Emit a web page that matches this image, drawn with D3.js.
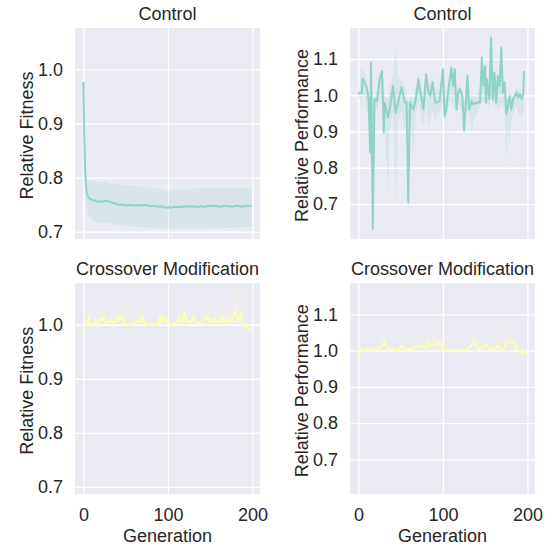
<!DOCTYPE html>
<meta charset='utf-8'>
<style>
body { margin: 0; background: #fff; }
text { font-family: 'Liberation Sans', Arial, sans-serif; fill: #262626; }
.grid line { stroke: #fff; stroke-width: 1.3px; }
.grid .domain { display: none; }
.grid text { font-size: 18px; }
.lbl { font-size: 18px; }
</style>
<svg width='548' height='546'></svg>
<script src='https://d3js.org/d3.v7.min.js'></script>
<script>

// ---- data ----
var ctrlFitGen  = [0,1,2,3,4,5,6,8,10,12,14,16,18,20,23,26,29,32,35,38,41,44,47,50,53,56,59,62,65,68,71,74,77,80,83,86,89,92,95,98,101,104,107,110,113,116,119,122,125,128,131,134,137,140,143,146,149,152,155,158,161,164,167,170,173,176,179,182,185,188,191,194,197,199];
var ctrlFitMean = [0.977,0.880,0.815,0.785,0.772,0.767,0.763,0.760,0.759,0.757,0.758,0.756,0.755,0.756,
  0.755,0.757,0.756,0.755,0.753,0.752,0.750,0.749,0.750,0.748,0.749,0.749,0.748,0.749,0.748,0.749,
  0.748,0.749,0.748,0.747,0.748,0.747,0.746,0.747,0.745,0.744,0.745,0.744,0.746,0.745,0.746,0.745,
  0.747,0.746,0.747,0.746,0.747,0.746,0.746,0.747,0.746,0.747,0.748,0.747,0.748,0.747,0.746,0.747,
  0.748,0.747,0.747,0.746,0.747,0.748,0.747,0.746,0.747,0.748,0.747,0.748];
var ctrlFitHi   = [0.980,0.905,0.845,0.812,0.800,0.797,0.796,0.795,0.794,0.793,0.794,0.792,0.791,0.792,
  0.791,0.792,0.790,0.789,0.788,0.788,0.787,0.786,0.787,0.785,0.786,0.785,0.784,0.785,0.783,0.784,
  0.782,0.783,0.781,0.781,0.780,0.780,0.779,0.778,0.777,0.777,0.776,0.777,0.778,0.777,0.778,0.779,
  0.778,0.779,0.780,0.779,0.780,0.779,0.780,0.781,0.780,0.781,0.780,0.781,0.780,0.781,0.780,0.781,
  0.782,0.781,0.780,0.781,0.782,0.781,0.780,0.781,0.782,0.781,0.780,0.781];
var ctrlFitLo   = [0.974,0.855,0.785,0.755,0.742,0.734,0.729,0.725,0.721,0.720,0.718,0.719,0.717,0.716,
  0.717,0.716,0.715,0.716,0.714,0.713,0.712,0.713,0.711,0.710,0.711,0.709,0.710,0.708,0.709,0.708,
  0.707,0.708,0.707,0.706,0.707,0.706,0.705,0.706,0.705,0.704,0.705,0.704,0.705,0.706,0.705,0.706,
  0.705,0.706,0.705,0.704,0.705,0.706,0.705,0.704,0.705,0.706,0.705,0.706,0.707,0.706,0.705,0.706,
  0.707,0.706,0.707,0.706,0.707,0.708,0.707,0.708,0.707,0.708,0.709,0.709];

var ctrlPerfGen  = [0,1,4,5,8,10,12,14,15,17,19,22,25,28,30,31,35,37,41,44,47,51,55,57,59,61,65,68,71,73,77,80,83,85,88,91,93,96,100,102,104,107,110,112,114,116,118,120,123,125,127,129,131,134,136,140,144,146,148,150,151,152,155,156,157,159,161,163,165,167,169,171,173,175,177,179,181,183,185,187,189,191,193,195,196];
var ctrlPerfMean = [1.003,1.006,1.007,1.046,1.030,1.021,0.989,0.842,1.090,0.631,0.989,0.984,1.044,1.067,
  0.897,0.980,0.939,0.961,1.026,0.952,0.980,1.021,0.980,0.980,0.705,0.980,0.961,0.989,1.044,1.012,
  0.961,1.058,1.007,0.998,1.035,0.980,0.980,0.984,1.072,0.943,0.961,1.026,1.076,1.026,1.072,0.961,
  1.007,1.017,0.998,0.902,0.971,1.053,0.961,0.984,0.975,0.980,0.980,1.104,1.026,1.081,0.980,1.044,
  0.989,1.072,1.159,0.989,1.062,0.980,1.053,1.026,1.131,1.007,1.035,0.948,0.971,0.998,0.961,0.989,
  0.998,1.007,0.994,1.003,0.989,1.003,1.067];
var ctrlPerfLo   = [0.990,0.995,0.970,1.000,0.990,0.950,0.960,0.800,0.990,0.630,0.970,0.960,0.990,0.990,
  0.880,0.920,0.730,0.900,0.960,0.686,0.930,0.960,0.900,0.930,0.677,0.940,0.833,0.950,0.980,0.950,
  0.915,0.980,0.915,0.930,0.960,0.930,0.950,0.950,0.990,0.930,0.940,0.970,0.990,0.960,0.980,0.950,
  0.970,0.970,0.950,0.900,0.930,0.970,0.950,0.888,0.930,0.950,0.970,0.990,0.980,0.990,0.970,0.980,
  0.970,0.990,1.000,0.970,0.980,0.960,0.970,0.960,0.980,0.970,0.950,0.815,0.900,0.860,0.930,0.950,
  0.960,0.970,0.940,0.950,0.940,0.950,0.950];
var ctrlPerfHi   = [1.010,1.020,1.080,1.070,1.060,1.040,1.010,0.990,1.090,0.990,1.000,1.010,1.060,1.070,
  0.990,1.000,0.990,1.030,1.050,1.140,1.050,1.040,1.020,1.000,0.980,1.000,0.990,1.030,1.060,1.040,
  1.000,1.060,1.030,1.030,1.050,1.000,1.030,1.010,1.075,1.000,1.010,1.040,1.076,1.040,1.072,1.000,
  1.030,1.030,1.010,0.980,1.000,1.060,1.000,1.000,1.000,1.000,1.030,1.104,1.050,1.081,1.030,1.050,
  1.040,1.072,1.159,1.030,1.062,1.030,1.055,1.040,1.131,1.030,1.040,1.000,0.990,1.000,1.000,1.000,
  1.010,1.020,1.010,1.020,1.000,1.010,1.100];

var xoFitGen  = [0,2,4,6,7,10,12,14,16,18,21,24,26,29,33,36,40,43,46,48,52,56,60,64,66,70,72,76,80,84,88,91,92,96,98,102,106,110,114,117,120,122,125,126,130,133,136,140,145,148,151,155,158,159,162,164,167,171,174,177,180,183,186,188,190,191,194,197,199];
var xoFitMean = [0.991,0.998,1.002,1.015,1.004,1.000,0.998,1.009,1.005,1.000,1.012,1.010,1.003,1.004,
  1.009,1.002,1.008,1.015,1.010,1.003,1.000,1.001,1.002,1.006,1.003,1.012,1.004,1.000,1.001,1.002,
  1.000,1.015,1.004,1.015,1.003,1.001,1.000,1.003,1.012,1.006,1.022,1.005,1.008,1.002,1.014,1.006,
  1.003,1.002,1.013,1.010,1.004,1.011,1.004,1.006,1.006,1.012,1.005,1.010,1.006,1.013,1.025,1.006,
  1.019,1.004,1.002,0.998,0.995,0.990,0.987];
var xoFitLo   = [0.985,0.992,0.996,1.000,0.998,0.996,0.994,1.000,0.999,0.996,1.000,1.000,0.998,0.998,
  1.000,0.997,1.000,1.002,1.000,0.998,0.996,0.997,0.998,0.999,0.998,1.000,0.999,0.997,0.998,0.998,
  0.997,1.000,0.999,1.001,0.998,0.997,0.997,0.998,1.000,0.999,1.003,0.999,1.000,0.998,1.001,0.999,
  0.998,0.998,1.000,1.000,0.999,1.000,0.999,0.999,0.999,1.000,0.999,1.000,0.999,1.001,1.004,0.999,
  1.002,0.998,0.996,0.993,0.990,0.984,0.981];
var xoFitHi   = [0.996,1.004,1.010,1.028,1.034,1.006,1.004,1.022,1.014,1.006,1.037,1.022,1.037,1.012,
  1.020,1.008,1.026,1.030,1.024,1.040,1.006,1.008,1.010,1.018,1.034,1.043,1.012,1.005,1.006,1.008,
  1.006,1.025,1.037,1.028,1.010,1.007,1.005,1.012,1.034,1.020,1.052,1.018,1.049,1.010,1.030,1.016,
  1.010,1.008,1.030,1.040,1.014,1.026,1.012,1.034,1.016,1.026,1.037,1.024,1.016,1.030,1.045,1.059,
  1.040,1.020,1.052,1.006,1.002,0.996,0.993];

var xoPerfGen  = [0,1,3,4,5,8,11,14,17,20,23,26,29,31,34,37,40,43,47,49,50,52,54,57,61,64,68,71,72,75,78,80,83,84,86,88,89,92,95,98,100,101,104,110,116,122,127,130,133,136,137,139,141,142,145,149,151,152,155,160,163,165,168,173,174,178,181,182,185,188,192,196,199];
var xoPerfMean = [0.994,0.990,1.007,1.001,1.000,1.003,1.004,1.003,1.002,1.005,1.005,1.007,1.016,1.021,
  1.007,1.005,1.004,1.003,0.999,1.010,1.011,1.011,1.002,1.003,1.004,1.005,1.010,1.010,1.010,1.014,
  1.010,1.010,1.021,1.015,1.012,1.014,1.017,1.016,1.020,1.019,1.001,1.000,1.000,1.000,1.000,1.000,
  1.001,1.005,1.012,1.019,1.019,1.018,1.010,1.004,1.005,1.015,1.014,1.014,1.004,1.005,1.007,1.016,
  1.004,1.006,1.021,1.025,1.022,1.022,1.020,0.998,0.997,0.996,0.996];
var xoPerfLo   = [0.988,0.984,0.998,0.996,0.996,0.998,0.999,0.998,0.998,0.999,0.999,1.000,1.002,1.004,
  1.000,0.999,0.999,0.998,0.995,1.000,1.001,1.001,0.998,0.998,0.999,0.999,1.000,1.000,1.000,1.001,
  1.000,1.000,1.003,1.001,1.001,1.001,1.002,1.002,1.003,1.003,0.997,0.996,0.997,0.997,0.997,0.997,
  0.997,0.999,1.000,1.003,1.003,1.002,1.000,0.999,0.999,1.001,1.001,1.001,0.999,0.999,1.000,1.002,
  0.999,1.000,1.003,1.004,1.003,1.003,1.003,0.990,0.986,0.982,0.980];
var xoPerfHi   = [1.000,0.998,1.018,1.030,1.006,1.010,1.012,1.010,1.008,1.014,1.012,1.018,1.035,1.057,
  1.020,1.012,1.010,1.010,1.004,1.025,1.040,1.024,1.010,1.010,1.012,1.014,1.022,1.022,1.040,1.028,
  1.022,1.020,1.036,1.048,1.026,1.057,1.034,1.030,1.036,1.032,1.010,1.044,1.004,1.004,1.004,1.004,
  1.006,1.016,1.028,1.040,1.057,1.032,1.048,1.012,1.014,1.030,1.035,1.026,1.012,1.012,1.040,1.030,
  1.012,1.016,1.040,1.066,1.040,1.053,1.034,1.008,1.006,1.004,1.000];

var genExtent = [0, 199];
var xTicks = [0, 100, 200];
var fitTicks = [0.7, 0.8, 0.9, 1.0];
var perfTicks = [0.7, 0.8, 0.9, 1.0, 1.1];
var titles = ['Control', 'Crossover Modification'];
var yLabels = ['Relative Fitness', 'Relative Performance'];
var colors = ['#8dd3c7', '#ffffb3'];

// ---- layout ----
var svg = d3.select('svg');
var colX = [75, 350], rowY = [28, 283.3];
var pw = 185, ph = 211;

// seaborn/matplotlib style 5% margins
function pad(ext) {
  var m = (ext[1] - ext[0]) * 0.05;
  return [ext[0] - m, ext[1] + m];
}

var xDomain = pad(genExtent);
var fitDomain = pad([d3.min(ctrlFitLo.concat(xoFitLo)), d3.max(ctrlFitHi.concat(xoFitHi))]);
var perfDomain = pad([d3.min(ctrlPerfLo.concat(xoPerfLo)), d3.max(ctrlPerfHi.concat(xoPerfHi))]);

var panels = [
  { col: 0, row: 0, gen: ctrlFitGen, mean: ctrlFitMean, lo: ctrlFitLo, hi: ctrlFitHi, dom: fitDomain, ticks: fitTicks },
  { col: 1, row: 0, gen: ctrlPerfGen, mean: ctrlPerfMean, lo: ctrlPerfLo, hi: ctrlPerfHi, dom: perfDomain, ticks: perfTicks },
  { col: 0, row: 1, gen: xoFitGen, mean: xoFitMean, lo: xoFitLo, hi: xoFitHi, dom: fitDomain, ticks: fitTicks },
  { col: 1, row: 1, gen: xoPerfGen, mean: xoPerfMean, lo: xoPerfLo, hi: xoPerfHi, dom: perfDomain, ticks: perfTicks }
];

panels.forEach(function(p) {
  var x0 = colX[p.col], y0 = rowY[p.row];
  var x = d3.scaleLinear().domain(xDomain).range([0, pw]);
  var y = d3.scaleLinear().domain(p.dom).range([ph, 0]);
  var color = colors[p.row];

  var g = svg.append('g').attr('transform', 'translate(' + x0 + ',' + y0 + ')');

  g.append('rect')
    .attr('width', pw)
    .attr('height', ph)
    .attr('fill', '#eaeaf2');

  // grid + tick labels
  g.append('g')
    .attr('class', 'grid')
    .call(d3.axisLeft(y).tickValues(p.ticks).tickSize(-pw).tickPadding(12).tickFormat(d3.format('.1f')));

  g.append('g')
    .attr('class', 'grid')
    .attr('transform', 'translate(0,' + ph + ')')
    .call(d3.axisBottom(x).tickValues(xTicks).tickSize(-ph).tickPadding(14)
      .tickFormat(p.row === 1 ? d3.format('d') : function() { return ''; }));

  var pts = p.gen.map(function(d, i) { return { g: d, m: p.mean[i], lo: p.lo[i], hi: p.hi[i] }; });

  // confidence band
  g.append('path')
    .datum(pts)
    .attr('fill', color)
    .attr('fill-opacity', 0.2)
    .attr('d', d3.area()
      .x(function(d) { return x(d.g); })
      .y0(function(d) { return y(d.lo); })
      .y1(function(d) { return y(d.hi); }));

  // mean line
  g.append('path')
    .datum(pts)
    .attr('fill', 'none')
    .attr('stroke', color)
    .attr('stroke-width', 2)
    .attr('stroke-linejoin', 'round')
    .attr('d', d3.line()
      .x(function(d) { return x(d.g); })
      .y(function(d) { return y(d.m); }));

  // title
  g.append('text')
    .attr('class', 'lbl')
    .attr('x', pw / 2)
    .attr('y', -8)
    .attr('text-anchor', 'middle')
    .text(titles[p.row]);

  // y label
  g.append('text')
    .attr('class', 'lbl')
    .attr('text-anchor', 'middle')
    .attr('transform', 'translate(-42,' + (ph / 2 + 2) + ') rotate(-90)')
    .text(yLabels[p.col]);

  // x label
  if (p.row === 1) {
    g.append('text')
      .attr('class', 'lbl')
      .attr('x', pw / 2)
      .attr('y', ph + 48)
      .attr('text-anchor', 'middle')
      .text('Generation');
  }
});

</script>
